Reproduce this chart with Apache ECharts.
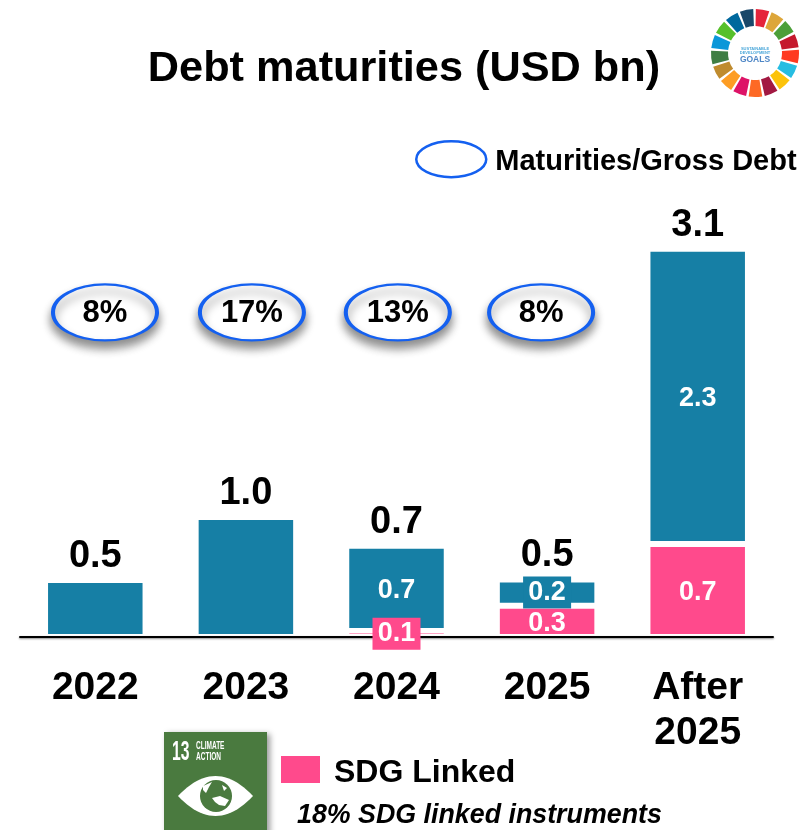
<!DOCTYPE html>
<html>
<head>
<meta charset="utf-8">
<style>html,body{margin:0;padding:0;background:#fff}#c{width:799px;height:830px}</style>
<script src="https://cdn.jsdelivr.net/npm/echarts@6/dist/echarts.min.js"></script>
</head>
<body>
<div id="c"></div>
<script>
const categories = ['2022', '2023', '2024', '2025', 'After\n2025'];
const sdgLinked = [0, 0, 0.005, 0.21, 0.725];
const spacing = [0, 0, 0.045, 0.05, 0.05];
const conventional = [0.425, 0.95, 0.66, 0.17, 2.41];
const sdgLabels = ['', '', '0.1', '0.3', '0.7'];
const conventionalLabels = ['', '', '0.7', '0.2', '2.3'];
const totalLabels = ['0.5', '1.0', '0.7', '0.5', '3.1'];
const maturityRatio = ['8%', '17%', '13%', '8%'];
const ratioLevel = [2.68, 2.68, 2.68, 2.68];

const BLUE = '#167FA5', PINK = '#FF4A8C', RING = '#1460F0', FONT = '"Liberation Sans", Arial, sans-serif';
const ringShift = [9.7, 6, 1.3, -6];
const ringPath = 'path://M0 28A52 28 0 1 1 104 28A52 28 0 1 1 0 28Z';
const totals = categories.map((_, i) => sdgLinked[i] + spacing[i] + conventional[i]);

// SDG wheel logo
const sdgColors = ['#E5243B','#DDA63A','#4C9F38','#C5192D','#FF3A21','#26BDE2','#FCC30B','#A21942','#FD6925','#DD1367','#FD9D24','#BF8B2E','#3F7E44','#0A97D9','#56C02B','#00689D','#19486A'];
const wheel = sdgColors.map((c, i) => {
  const step = 2 * Math.PI / 17, mid = (-80 * Math.PI / 180) + i * step;
  return { type: 'sector', shape: { cx: 755, cy: 53, r: 44, r0: 27, startAngle: mid - step * 0.42, endAngle: mid + step * 0.42 }, style: { fill: c } };
});
const smallLogoText = (t, y, size, fill) => ({ type: 'text', x: 755, y, style: { text: t, fill, font: `bold ${size}px ${FONT}`, align: 'center', verticalAlign: 'middle' } });

// eye outline of the goal 13 tile
const eye = [];
for (let k = 0; k <= 24; k++) { const t = k / 24; eye.push([178 + 75 * t, 796 - 80 * t * (1 - t)]); }
for (let k = 24; k >= 0; k--) { const t = k / 24; eye.push([178 + 75 * t, 796 + 80 * t * (1 - t)]); }

const climateBox = [
  { type: 'rect', shape: { x: 164, y: 732, width: 103, height: 110 }, style: { fill: '#4A7A3F', shadowBlur: 6, shadowOffsetX: 3, shadowOffsetY: 2, shadowColor: 'rgba(0,0,0,0.4)' } },
  { type: 'text', x: 172, y: 752, scaleX: 0.56, style: { text: '13', fill: '#fff', font: `bold 28px ${FONT}`, verticalAlign: 'middle' } },
  { type: 'text', x: 196, y: 746, scaleX: 0.62, style: { text: 'CLIMATE', fill: '#fff', font: `bold 10.5px ${FONT}`, verticalAlign: 'middle' } },
  { type: 'text', x: 196, y: 757, scaleX: 0.62, style: { text: 'ACTION', fill: '#fff', font: `bold 10.5px ${FONT}`, verticalAlign: 'middle' } },
  { type: 'polygon', shape: { points: eye }, style: { fill: '#fff' } },
  { type: 'circle', shape: { cx: 216, cy: 796, r: 16 }, style: { fill: '#4A7A3F' } },
  { type: 'polygon', shape: { points: [[203,786],[212,782],[209,787],[206,793],[203,790]] }, style: { fill: '#fff' } },
  { type: 'polygon', shape: { points: [[212,798],[220,796],[229,800],[225,806],[219,805],[215,802]] }, style: { fill: '#fff' } },
  { type: 'polygon', shape: { points: [[222,785],[227,788],[224,791]] }, style: { fill: '#fff' } }
];

const legendText = (size, top, left) => ({
  fontFamily: FONT, fontWeight: 'bold', fontSize: size, color: '#000',
  rich: { t: { fontFamily: FONT, fontWeight: 'bold', fontSize: size, color: '#000', padding: [top, 0, 0, left] } }
});

const chart = echarts.init(document.getElementById('c'), null, { renderer: 'canvas' });
chart.setOption({
  animation: false,
  backgroundColor: '#fff',
  textStyle: { fontFamily: FONT },
  title: { text: 'Debt maturities (USD bn)', left: 399, top: 43, textAlign: 'center', textStyle: { fontFamily: FONT, fontWeight: 'bold', fontSize: 43.3, color: '#000' } },
  legend: [
    { data: [{ name: 'Maturities/Gross Debt', icon: 'path://M0 18A35 18 0 1 1 70 18A35 18 0 1 1 0 18Z', itemStyle: { color: '#fff', borderColor: RING, borderWidth: 2.5, shadowBlur: 0, shadowColor: 'transparent', shadowOffsetY: 0, opacity: 1 } }],
      formatter: '{t|{name}}', left: 410, top: 135, itemWidth: 70, itemHeight: 37, itemGap: 0, selectedMode: false, textStyle: legendText(29, 6, 4) },
    { data: [{ name: 'SDG Linked', icon: 'rect' }], formatter: '{t|{name}}', left: 276, top: 751, itemWidth: 39, itemHeight: 27, selectedMode: false, textStyle: legendText(32, 8, 9) }
  ],
  grid: { left: 20, top: 154, width: 753, height: 480, containLabel: false },
  xAxis: {
    type: 'category', data: categories, offset: 3,
    axisTick: { show: false },
    axisLine: { onZero: false, lineStyle: { color: '#000', width: 2, shadowColor: 'rgba(0,0,0,0.45)', shadowBlur: 2, shadowOffsetY: 1 } },
    axisLabel: { interval: 0, margin: 29, color: '#000', fontFamily: FONT, fontWeight: 'bold', fontSize: 39, lineHeight: 45 }
  },
  yAxis: { type: 'value', min: 0, max: 4, show: false, splitLine: { show: false } },
  graphic: [
    ...wheel,
    smallLogoText('SUSTAINABLE', 48.5, 4, '#4DA8DA'),
    smallLogoText('DEVELOPMENT', 53, 4, '#4DA8DA'),
    smallLogoText('GOALS', 60, 8.5, '#4D86C6'),
    ...climateBox,
    { type: 'text', x: 297, y: 816, style: { text: '18% SDG linked instruments', fill: '#000', font: `italic bold 26.8px ${FONT}`, verticalAlign: 'middle' } }
  ],
  series: [
    {
      name: 'SDG Linked', type: 'bar', stack: 'debt', barWidth: 94.5, z: 4,
      itemStyle: { color: PINK },
      data: sdgLinked.map((v, i) => ({
        value: v,
        label: { show: sdgLabels[i] !== '', formatter: sdgLabels[i], position: 'inside', color: '#fff', fontFamily: FONT, fontWeight: 'bold', fontSize: 27,
          ...(sdgLabels[i] === '0.1' ? { backgroundColor: PINK, width: 48, height: 28, lineHeight: 28, padding: [4, 0, 0, 0], align: 'center', verticalAlign: 'middle' } : { offset: [0, 2] }) }
      }))
    },
    { name: 'Spacing', type: 'bar', stack: 'debt', barWidth: 94.5, itemStyle: { color: 'transparent' }, data: spacing, silent: true },
    {
      name: 'Conventional', type: 'bar', stack: 'debt', barWidth: 94.5, z: 2,
      itemStyle: { color: BLUE },
      data: conventional.map((v, i) => ({
        value: v,
        label: { show: conventionalLabels[i] !== '', formatter: conventionalLabels[i], position: 'inside', color: '#fff', fontFamily: FONT, fontWeight: 'bold', fontSize: 27,
          ...(conventionalLabels[i] === '0.2' ? { backgroundColor: BLUE, width: 48, height: 30, lineHeight: 30, padding: [2, 0, 0, 0], align: 'center', verticalAlign: 'middle' } : { offset: [0, 2] }) }
      }))
    },
    {
      name: 'Total', type: 'scatter', symbolSize: 1, itemStyle: { color: 'transparent', opacity: 1 }, z: 5,
      data: totals.map((v, i) => ({
        value: [i, v],
        label: { show: true, formatter: totalLabels[i], position: 'top', distance: 7, color: '#000', opacity: 1, fontFamily: FONT, fontWeight: 'bold', fontSize: 38 }
      }))
    },
    {
      name: 'Maturities/Gross Debt', type: 'scatter', symbol: ringPath, symbolSize: [104, 56], z: 6,
      itemStyle: { color: '#fff', opacity: 1, borderColor: RING, borderWidth: 3, shadowColor: 'rgba(0,0,0,0.45)', shadowBlur: 10, shadowOffsetY: 7 },
      data: maturityRatio.map((t, i) => ({
        value: [i, ratioLevel[i]],
        symbolOffset: [ringShift[i], 0],
        label: { show: true, formatter: t, position: 'inside', offset: [0, 1], color: '#000', opacity: 1, fontFamily: FONT, fontWeight: 'bold', fontSize: 31 }
      }))
    }
  ]
});
</script>
</body>
</html>
